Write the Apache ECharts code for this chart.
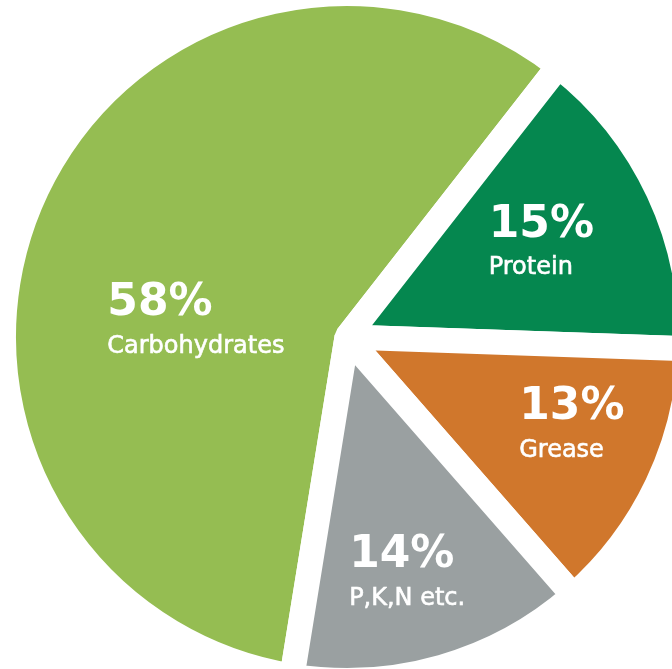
<!DOCTYPE html>
<html>
<head>
<meta charset="utf-8">
<script src="https://cdn.jsdelivr.net/npm/echarts@6/dist/echarts.min.js"></script>
<style>
html,body{margin:0;padding:0;background:#ffffff;}
#chart{width:672px;height:669px;}
</style>
</head>
<body>
<div id="chart"></div>
<script>
// ---- data ----
const categories = ['Carbohydrates', 'Protein', 'Grease', 'P,K,N etc.'];
const values = [58, 15, 13, 14];

// ---- styles ----
const colors = ['#95bd52', '#05874f', '#d0772c', '#9aa0a1'];
const labelShift = [[9, 54], [36, -21], [67, 13], [12, 68]];
const fontFamily = 'DejaVu Sans';

const chart = echarts.init(document.getElementById('chart'), null, { renderer: 'canvas' });

const seriesData = categories.map((name, i) => ({
  name: name,
  value: values[i],
  itemStyle: { color: colors[i] }
}));

chart.setOption({
  animation: false,
  backgroundColor: '#ffffff',
  series: [{
    type: 'pie',
    center: [347, 337],
    radius: [0, 343.5],
    startAngle: 260.8,
    clockwise: true,
    avoidLabelOverlap: false,
    silent: true,
    itemStyle: {
      borderColor: '#ffffff',
      borderWidth: 25,
      borderJoin: 'bevel'
    },
    label: {
      show: true,
      position: 'inside',
      formatter: '{p|{c}%}\n{n|{b}}',
      rich: {
        p: { fontFamily: fontFamily, fontSize: 44, fontWeight: 'bold', color: '#ffffff', lineHeight: 52, align: 'left' },
        n: { fontFamily: fontFamily, fontSize: 24, color: '#ffffff', lineHeight: 34, align: 'left',
             textBorderColor: '#ffffff', textBorderWidth: 0.6 }
      }
    },
    labelLine: { show: false },
    labelLayout: function (params) {
      const s = labelShift[params.dataIndex];
      return { dx: s[0], dy: s[1] };
    },
    emphasis: { disabled: true },
    data: seriesData
  }]
});
</script>
</body>
</html>
